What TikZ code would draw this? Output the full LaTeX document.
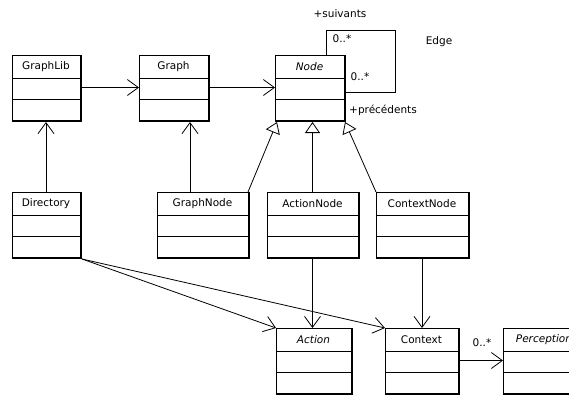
\documentclass[tikz,border=0pt]{standalone}
\usepackage{fontspec}
\setmainfont{DejaVu Sans}
\usetikzlibrary{arrows.meta}

\tikzset{
  classbox/.style={draw, fill=white, rectangle, anchor=north west,
    inner sep=0pt, outer sep=0pt, minimum height=65pt, line width=0.8pt},
  classtitle/.style={font=\fontsize{10.5}{12}\selectfont, inner sep=0pt},
  lbl/.style={font=\fontsize{10.5}{12}\selectfont, inner sep=0pt},
  shadowline/.style={line width=2pt},
  assoc/.style={line width=0.8pt,
    -{Straight Barb[length=11pt,width=16pt,line width=0.8pt]}},
  inherit/.style={line width=0.8pt,
    -{Triangle[length=11pt,width=15pt,fill=white,line width=0.8pt]}},
  plain/.style={line width=0.8pt},
  italictitle/.style={font=\fontsize{10.5}{12}\selectfont\itshape},
}

% #1 name, #2 x, #3 y, #4 width, #5 title, #6 extra title style
\newcommand{\umlclass}[6]{%
  \node[classbox, minimum width=#4pt] (#1) at (#2,#3) {};
  \draw[plain] ([yshift=-23pt]#1.north west) -- ([yshift=-23pt]#1.north east);
  \draw[plain] ([yshift=-44pt]#1.north west) -- ([yshift=-44pt]#1.north east);
  \draw[shadowline] ([xshift=1pt]#1.north east)
    -- ([shift={(1pt,-1pt)}]#1.south east) -- ([yshift=-1pt]#1.south west);
  \node[classtitle, #6] (#1-title) at ([yshift=-11.5pt]#1.north) {#5};
}

\begin{document}
\begin{tikzpicture}[x=1pt, y=-1pt]
\useasboundingbox (0,0) rectangle (569,397);
\clip (0,0) rectangle (569,397);

% classes
\umlclass{graphlib}{12}{55}{68}{GraphLib}{}
\umlclass{graph}{139}{55}{69}{Graph}{}
\umlclass{node}{275}{55}{69}{Node}{italictitle}
\umlclass{directory}{12}{192}{68}{Directory}{}
\umlclass{graphnode}{157}{192}{91}{GraphNode}{}
\umlclass{actionnode}{267}{192}{91}{ActionNode}{}
\umlclass{contextnode}{376}{192}{92}{ContextNode}{}
\umlclass{action}{276}{328}{75}{Action}{italictitle}
\umlclass{context}{385}{328}{73}{Context}{}
\umlclass{perception}{503}{328}{82}{Perception}{italictitle}

% associations
\draw[assoc] ([xshift=2pt]graphlib.east) -- (graph.west);
\draw[assoc] ([xshift=2pt]graph.east) -- (node.west);
\draw[assoc] (directory.north) -- ([yshift=-2pt]graphlib.south);
\draw[assoc] ([xshift=33pt]graphnode.north west)
  -- ([xshift=33pt,yshift=-2pt]graphnode.north west |- graph.south);
\draw[assoc] ([shift={(2pt,-2pt)}]directory.south east) -- (action.north west);
\draw[assoc] ([shift={(2pt,-2pt)}]directory.south east) -- (context.north west);
\draw[assoc] ([yshift=-2pt]actionnode.south) -- (actionnode.south |- action.north);
\draw[assoc] ([yshift=-2pt]contextnode.south) -- (contextnode.south |- context.north);
\draw[assoc] ([xshift=2pt]context.east) -- (perception.west);

% generalizations
\draw[inherit] (graphnode.north east) -- ([shift={(2pt,-2pt)}]node.south west);
\draw[inherit] (actionnode.north) -- ([yshift=-2pt]actionnode.north |- node.south);
\draw[inherit] (contextnode.north west) -- ([shift={(1pt,-2pt)}]node.south east);

% self association Edge
\coordinate (loopcorner) at (395,92);
\draw[plain] ([xshift=51pt]node.north west) -- ++(0,-25) -- ++(69,0)
  -- (loopcorner) -- ([xshift=2pt]loopcorner -| node.east);

% labels
\node[lbl] (l-suiv) at (340,14) {+suivants};
\node[lbl] (l-m1) at (342,39) {0..*};
\node[lbl] (l-m2) at (360,77) {0..*};
\node[lbl] (l-prec) at (383,110) {+précédents};
\node[lbl] (l-edge) at (439,42) {Edge};
\node[lbl] (l-m3) at (482,343) {0..*};
\end{tikzpicture}
\end{document}
